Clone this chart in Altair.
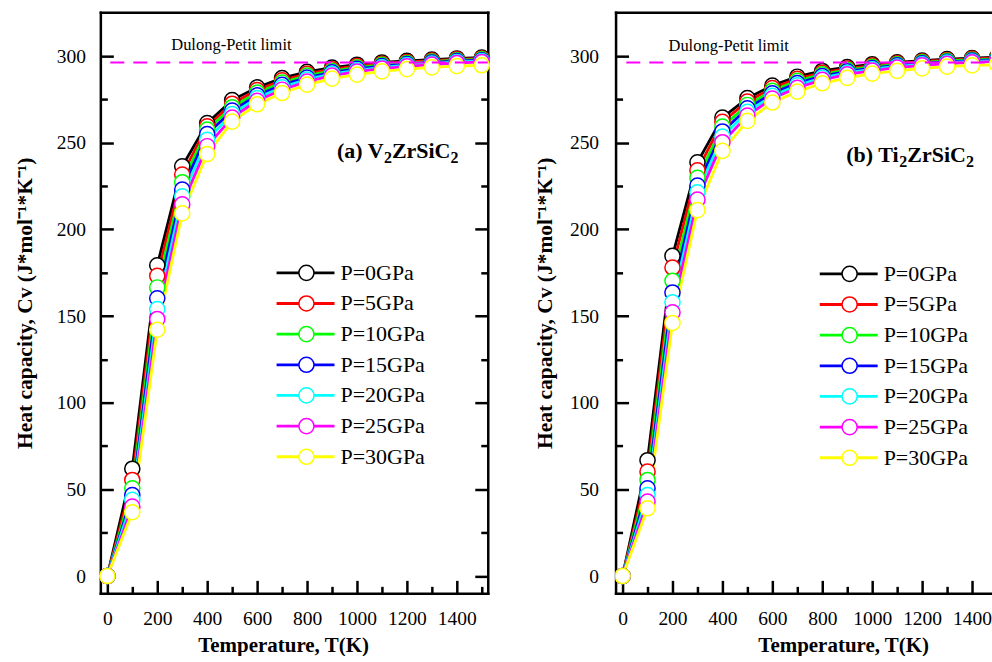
import altair as alt
import pandas as pd

FONT = "Liberation Serif"

TEMPS = [0, 100, 200, 300, 400, 500, 600, 700, 800, 900, 1000, 1100, 1200, 1300, 1400, 1500]
PRESSURES = ["P=0GPa", "P=5GPa", "P=10GPa", "P=15GPa", "P=20GPa", "P=25GPa", "P=30GPa"]
COLORS = ["#000000", "#ff0000", "#00ff00", "#0000ff", "#00ffff", "#ff00ff", "#ffff00"]

# (a) V2ZrSiC2
V_P0 = [0, 61.9, 179.3, 236.4, 261.3, 274.6, 281.9, 287.3, 290.9, 293.3, 295.0, 296.3, 297.2, 298.0, 298.6, 299.1]
V_P5 = [0, 55.4, 173.2, 231.6, 259.5, 272.5, 280.4, 286.0, 289.8, 292.4, 294.2, 295.6, 296.6, 297.4, 298.1, 298.6]
V_P10 = [0, 50.6, 166.5, 227.2, 257.6, 270.5, 278.9, 284.7, 288.7, 291.5, 293.4, 294.9, 296.0, 296.8, 297.6, 298.1]
V_P15 = [0, 46.7, 160.2, 223.0, 255.0, 268.5, 277.3, 283.4, 287.6, 290.6, 292.6, 294.2, 295.4, 296.3, 297.1, 297.6]
V_P20 = [0, 43.9, 154.0, 219.1, 251.7, 266.5, 275.8, 282.0, 286.5, 289.7, 291.8, 293.5, 294.8, 295.7, 296.6, 297.1]
V_P25 = [0, 40.0, 148.3, 214.4, 248.0, 264.5, 274.2, 280.6, 285.3, 288.7, 291.0, 292.8, 294.1, 295.1, 296.0, 296.6]
V_P30 = [0, 36.8, 142.1, 209.2, 243.5, 262.2, 272.2, 278.7, 283.5, 287.0, 289.3, 291.2, 292.5, 293.5, 294.2, 294.7]

# (b) Ti2ZrSiC2
T_P0 = [0, 66.8, 184.7, 238.7, 264.5, 275.7, 283.0, 288.1, 291.4, 293.6, 295.2, 296.4, 297.4, 298.2, 298.8, 299.3]
T_P5 = [0, 60.2, 178.0, 234.1, 262.0, 273.8, 281.5, 286.9, 290.4, 292.8, 294.5, 295.8, 296.9, 297.7, 298.4, 298.9]
T_P10 = [0, 55.4, 170.3, 229.7, 259.3, 271.8, 280.0, 285.7, 289.4, 292.0, 293.8, 295.2, 296.4, 297.2, 297.9, 298.4]
T_P15 = [0, 50.6, 163.6, 225.3, 256.5, 269.8, 278.5, 284.4, 288.4, 291.2, 293.1, 294.6, 295.8, 296.7, 297.4, 297.9]
T_P20 = [0, 46.7, 157.9, 221.4, 253.5, 267.8, 277.0, 283.1, 287.4, 290.3, 292.4, 294.0, 295.2, 296.2, 296.9, 297.4]
T_P25 = [0, 42.9, 152.1, 217.2, 250.3, 265.6, 275.5, 281.7, 286.3, 289.4, 291.6, 293.3, 294.6, 295.6, 296.4, 296.9]
T_P30 = [0, 39.1, 146.0, 211.1, 245.3, 262.6, 273.2, 279.5, 284.3, 287.4, 289.9, 291.5, 292.9, 293.9, 294.6, 295.1]

DP_LIMIT = 296.3
DP_TEXT = "Dulong-Petit limit"

X_MAJOR = [0, 200, 400, 600, 800, 1000, 1200, 1400]
X_MINOR = [100, 300, 500, 700, 900, 1100, 1300, 1500]
Y_MAJOR = [0, 50, 100, 150, 200, 250, 300]
Y_MINOR = [25, 75, 125, 175, 225, 275]

X_TITLE = "Temperature, T(K)"
Y_TITLE = "Heat capacity, Cv (J*mol\u207b\u00b9*K\u207b\u00b9)"

H = 582
Y_DOMAIN = [-10, 325.3]

# the circle legend uses its own (label-hidden) key so it is not merged with the line legend
CIRCLE_KEYS = [p + " " for p in PRESSURES]


def make_df(series):
    rows = []
    for k, (p, q, vals) in enumerate(zip(PRESSURES, CIRCLE_KEYS, series)):
        for t, v in zip(TEMPS, vals):
            rows.append({"T": t, "Cv": v, "P": p, "Q": q, "k": k})
    return pd.DataFrame(rows)


def tick_axis(orient, offset, values, size, domain=False):
    return alt.Axis(orient=orient, offset=offset, values=values, tickSize=size, tickWidth=2.5,
                    tickColor="black", labels=False, domain=domain, domainColor="black",
                    domainWidth=2.5, domainCap="square", grid=False, title=None)


def panel(series, W, xdom, clip, right_edge, cfg):
    df = make_df(series)
    xs = alt.Scale(domain=xdom, nice=False, zero=False)
    ys = alt.Scale(domain=Y_DOMAIN, nice=False, zero=False)
    cs = alt.Scale(domain=PRESSURES, range=COLORS)
    ss = alt.Scale(domain=CIRCLE_KEYS, range=COLORS)
    base = alt.Chart(df)
    xmaj = [v for v in X_MAJOR if xdom[0] <= v <= xdom[1]]
    xmin = [v for v in X_MINOR if xdom[0] <= v <= xdom[1]]

    x_axis = alt.Axis(title=X_TITLE, values=xmaj, format="d", ticks=False, domain=True,
                      domainColor="black", domainWidth=2.5, domainCap="square", grid=False,
                      labelFont=FONT, labelFontSize=19.5, labelColor="black", labelPadding=16,
                      labelFlush=False, labelOverlap=False, titleFont=FONT, titleFontSize=21,
                      titleFontWeight="bold", titleColor="black", titleX=cfg["xtitle_x"], titleY=58,
                      titleBaseline="alphabetic", titleAlign="center")
    y_axis = alt.Axis(title=Y_TITLE, values=Y_MAJOR, format="d", ticks=False, domain=True,
                      domainColor="black", domainWidth=2.5, domainCap="square", grid=False,
                      labelFont=FONT, labelFontSize=19.5, labelColor="black",
                      labelPadding=cfg["ylab_pad"], labelFlush=False, labelOverlap=False,
                      titleFont=FONT, titleFontSize=21.5, titleFontWeight="bold", titleColor="black",
                      titleX=cfg["ytitle_x"], titleY=H / 2, titleAngle=270,
                      titleBaseline="alphabetic", titleAlign="center")

    line_legend = alt.Legend(orient="none", legendX=cfg["leg_x"], legendY=cfg["leg_y"], title=None,
                             symbolType="stroke", symbolSize=3364, symbolStrokeWidth=2.8,
                             clipHeight=22, rowPadding=8.7, labelFont=FONT, labelFontSize=22,
                             labelColor="black", labelOffset=4.5, padding=0, zindex=1)
    circ_legend = alt.Legend(orient="none", legendX=cfg["leg_x"] + 20.4, legendY=cfg["leg_y"],
                             title=None, symbolType="circle", symbolSize=230, symbolStrokeWidth=1.5,
                             symbolFillColor="white", clipHeight=22, rowPadding=8.7, labelFont=FONT,
                             labelFontSize=22, labelExpr="''", padding=0, zindex=2)

    lines = base.mark_line(strokeWidth=2.8, clip=clip).encode(
        x=alt.X("T:Q", scale=xs, axis=x_axis),
        y=alt.Y("Cv:Q", scale=ys, axis=y_axis),
        color=alt.Color("P:N", scale=cs, sort=PRESSURES, legend=line_legend),
    )
    points = base.mark_point(shape="circle", size=230, fill="white", fillOpacity=1, strokeWidth=1.5,
                             opacity=1, clip=clip).encode(
        x=alt.X("T:Q", scale=xs, axis=None),
        y=alt.Y("Cv:Q", scale=ys, axis=None),
        stroke=alt.Stroke("Q:N", scale=ss, sort=CIRCLE_KEYS, legend=circ_legend),
        order=alt.Order("k:Q"),
    )
    dp_df = pd.DataFrame({"x": [cfg["dp_x0"]], "x2": [1525], "y": [DP_LIMIT]})
    dp = alt.Chart(dp_df).mark_rule(color="#ff00ff", strokeWidth=2, strokeDash=[14, 9],
                                    clip=True).encode(
        x=alt.X("x:Q", scale=xs, axis=None), x2="x2:Q",
        y=alt.Y("y:Q", scale=ys, axis=None))
    txt_df = pd.DataFrame({"x": [cfg["dp_tx"]], "y": [cfg["dp_ty"]], "t": [DP_TEXT]})
    dpt = alt.Chart(txt_df).mark_text(font=FONT, fontSize=16.5, align="left", baseline="alphabetic",
                                      color="black").encode(
        x=alt.X("x:Q", scale=xs, axis=None), y=alt.Y("y:Q", scale=ys, axis=None), text="t:N")

    name_df = pd.DataFrame({"x": [cfg["name_x"]], "y": [cfg["name_y"]]})
    name_layers = []
    for text, size, dx, dy in cfg["name_parts"]:
        name_layers.append(
            alt.Chart(name_df).mark_text(font=FONT, fontSize=size, fontWeight="bold", align="left",
                                         baseline="alphabetic", color="black", dx=dx, dy=dy,
                                         text=text).encode(
                x=alt.X("x:Q", scale=xs, axis=None), y=alt.Y("y:Q", scale=ys, axis=None)))

    # invisible carriers for the frame and inward tick axes (kept inside the plot area)
    def axis_layer(xa, ya):
        return base.transform_filter(
            (alt.datum.T >= xdom[0]) & (alt.datum.T <= xdom[1])
        ).mark_point(opacity=0, size=1, clip=True).encode(
            x=alt.X("T:Q", scale=xs, axis=xa), y=alt.Y("Cv:Q", scale=ys, axis=ya))

    top_border = alt.Axis(orient="top", ticks=False, labels=False, domain=True, domainColor="black",
                          domainWidth=2.5, domainCap="square", grid=False, title=None)
    tick_layers = [
        axis_layer(tick_axis("top", -H, xmaj, 13), tick_axis("right", -W, Y_MAJOR, 13)),
        axis_layer(tick_axis("top", -H, xmin, 7), tick_axis("right", -W, Y_MINOR, 7)),
    ]
    if right_edge:
        tick_layers.append(axis_layer(top_border, tick_axis("left", -W, Y_MAJOR, 13, domain=True)))
        tick_layers.append(axis_layer(None, tick_axis("left", -W, Y_MINOR, 7)))
    else:
        tick_layers.append(axis_layer(top_border, None))

    return alt.layer(lines, points, dp, dpt, *name_layers, *tick_layers).resolve_axis(
        x="independent", y="independent").properties(width=W, height=H)


left = panel(
    [V_P0, V_P5, V_P10, V_P15, V_P20, V_P25, V_P30], 388, [-28, 1524], False, True,
    {"xtitle_x": 183, "ytitle_x": -69, "ylab_pad": 15, "leg_x": 175, "leg_y": 250,
     "dp_x0": 12, "dp_tx": 256, "dp_ty": 303.6, "name_x": 920, "name_y": 241.3,
     "name_parts": [("(a) V", 22, 0, 0), ("2", 16, 47, 5), ("ZrSiC", 22, 55, 0), ("2", 16, 113.7, 5)]})

right = panel(
    [T_P0, T_P5, T_P10, T_P15, T_P20, T_P25, T_P30], 376, [-28, 1476], True, False,
    {"xtitle_x": 228, "ytitle_x": -64, "ylab_pad": 17, "leg_x": 203, "leg_y": 251,
     "dp_x0": 15, "dp_tx": 184, "dp_ty": 303.1, "name_x": 896, "name_y": 239,
     "name_parts": [("(b) Ti", 22, 0, 0), ("2", 16, 53.2, 5), ("ZrSiC", 22, 61.2, 0), ("2", 16, 119.9, 5)]})

chart = alt.hconcat(left, right, spacing=42).resolve_scale(
    color="independent", stroke="independent").properties(
    padding={"left": 14.5, "top": 11.75, "right": 0, "bottom": 0}).configure_view(stroke=None)

chart.save("out.html", embed_options={"renderer": "svg", "actions": False})
